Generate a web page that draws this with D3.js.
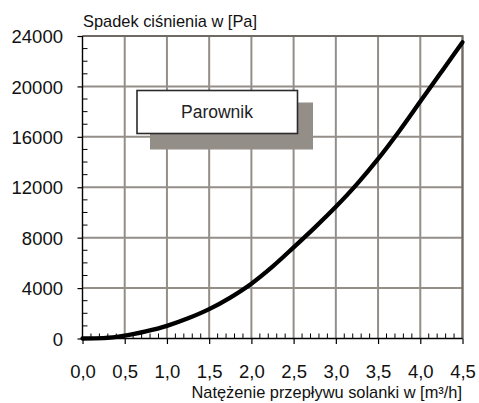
<!DOCTYPE html>
<html>
<head>
<meta charset="utf-8">
<script src="https://cdn.jsdelivr.net/npm/d3@7"></script>
<style>
  html, body { margin: 0; padding: 0; background: #fff; }
  svg { display: block; font-family: "Liberation Sans", Arial, sans-serif; }
</style>
</head>
<body>
<svg id="chart" width="479" height="403"></svg>
<script>
// ---- data ----
const flow = [0, 0.25, 0.5, 0.75, 1.0, 1.25, 1.5, 1.75, 2.0, 2.25, 2.5, 2.75, 3.0, 3.25, 3.5, 3.75, 4.0, 4.25, 4.5];
const pressure = [0, 30, 220, 560, 1000, 1600, 2330, 3250, 4350, 5700, 7230, 8800, 10450, 12250, 14250, 16450, 18800, 21150, 23500];
const xTicks = [0, 0.5, 1.0, 1.5, 2.0, 2.5, 3.0, 3.5, 4.0, 4.5];
const yTicks = [0, 4000, 8000, 12000, 16000, 20000, 24000];
const seriesName = "Parownik";
const yTitle = "Spadek ciśnienia w [Pa]";
const xTitle = "Natężenie przepływu solanki w [m³/h]";

// ---- layout ----
const L = 82.5, R = 462.5, T = 36, B = 338.5;
const W = R - L, H = B - T;
const svg = d3.select("#chart");
const x = d3.scaleLinear().domain([0, 4.5]).range([L, R]);
const y = d3.scaleLinear().domain([0, 24000]).range([B, T]);
const fmt = d => d.toFixed(1).replace(".", ",");
const gridColor = "#948e89";

const gridLayer = svg.append("g");
const axisLayer = svg.append("g");
const markLayer = svg.append("g");

// grid (same colour as the legend shadow)
gridLayer.selectAll("path.v").data(xTicks.slice(1)).join("path").attr("class", "v")
  .attr("d", d => `M${x(d)},${T}V${B}`)
  .attr("fill", "none").attr("stroke", gridColor).attr("stroke-width", 2);
gridLayer.selectAll("path.h").data(yTicks.slice(1)).join("path").attr("class", "h")
  .attr("d", d => `M${L},${y(d)}H${R}`)
  .attr("fill", "none").attr("stroke", gridColor).attr("stroke-width", 2);
gridLayer.append("path").attr("d", `M${L},${T}H${R}V${B}`)
  .attr("fill", "none").attr("stroke", "#6f6a65").attr("stroke-width", 2);

// y axis
const yAxis = d3.axisLeft(y).tickValues(yTicks).tickSize(5).tickFormat(d => d);
const gy = axisLayer.append("g").attr("transform", `translate(${L},0)`).call(yAxis);
gy.select(".domain").attr("stroke", "#000").attr("stroke-width", 1.4).attr("d", `M0,${T}V${B}`);
gy.selectAll(".tick line").attr("stroke", "#000").attr("stroke-width", 1.2);
gy.selectAll(".tick text").attr("font-size", "18.5px").attr("fill", "#111")
  .attr("x", -19.5).attr("dy", "0.36em").style("font-family", "'Liberation Sans', Arial, sans-serif");
const yMinor = d3.range(1000, 24000, 1000).filter(v => v % 4000 !== 0);
axisLayer.append("g").selectAll("line").data(yMinor).join("line")
  .attr("x1", L).attr("x2", L + 5).attr("y1", d => y(d)).attr("y2", d => y(d))
  .attr("stroke", "#000").attr("stroke-width", 1);

// x axis
const xAxis = d3.axisBottom(x).tickValues(xTicks).tickSize(5.5).tickFormat(fmt);
const gx = axisLayer.append("g").attr("transform", `translate(0,${B})`).call(xAxis);
gx.select(".domain").attr("stroke", "#000").attr("stroke-width", 1.4).attr("d", `M${L},0H${R}`);
gx.selectAll(".tick line").attr("stroke", "#000").attr("stroke-width", 1.2);
gx.selectAll(".tick text").attr("font-size", "18.5px").attr("fill", "#111")
  .attr("y", 26).attr("dy", "0.71em").style("font-family", "'Liberation Sans', Arial, sans-serif");
const xMinor = d3.range(1, 45).filter(v => v % 5 !== 0).map(v => v / 10);
axisLayer.append("g").selectAll("line").data(xMinor).join("line")
  .attr("x1", d => x(d)).attr("x2", d => x(d)).attr("y1", B).attr("y2", B - 5)
  .attr("stroke", "#000").attr("stroke-width", 1);

// titles
markLayer.append("text").attr("x", 83).attr("y", 26.5).attr("font-size", "16.4px").attr("fill", "#111").text(yTitle);
markLayer.append("text").attr("x", 462).attr("y", 398).attr("text-anchor", "end").attr("font-size", "16.4px").attr("fill", "#111").text(xTitle);

// curve
const data = flow.map((q, i) => ({ q, p: pressure[i] }));
markLayer.append("path").datum(data)
  .attr("fill", "none").attr("stroke", "#000").attr("stroke-width", 4.3)
  .attr("stroke-linecap", "round")
  .attr("d", d3.line().x(d => x(d.q)).y(d => y(d.p)).curve(d3.curveMonotoneX));

// legend box with shadow
markLayer.append("rect").attr("x", 150).attr("y", 102.5).attr("width", 163).attr("height", 47).attr("fill", "#948e89");
markLayer.append("rect").attr("x", 137).attr("y", 90.5).attr("width", 160.5).attr("height", 43).attr("fill", "#fff")
  .attr("stroke", "#2a2a2a").attr("stroke-width", 1.6);
markLayer.append("text").attr("x", 217).attr("y", 118).attr("text-anchor", "middle").attr("font-size", "17.5px").attr("fill", "#222").text(seriesName);
</script>
</body>
</html>
